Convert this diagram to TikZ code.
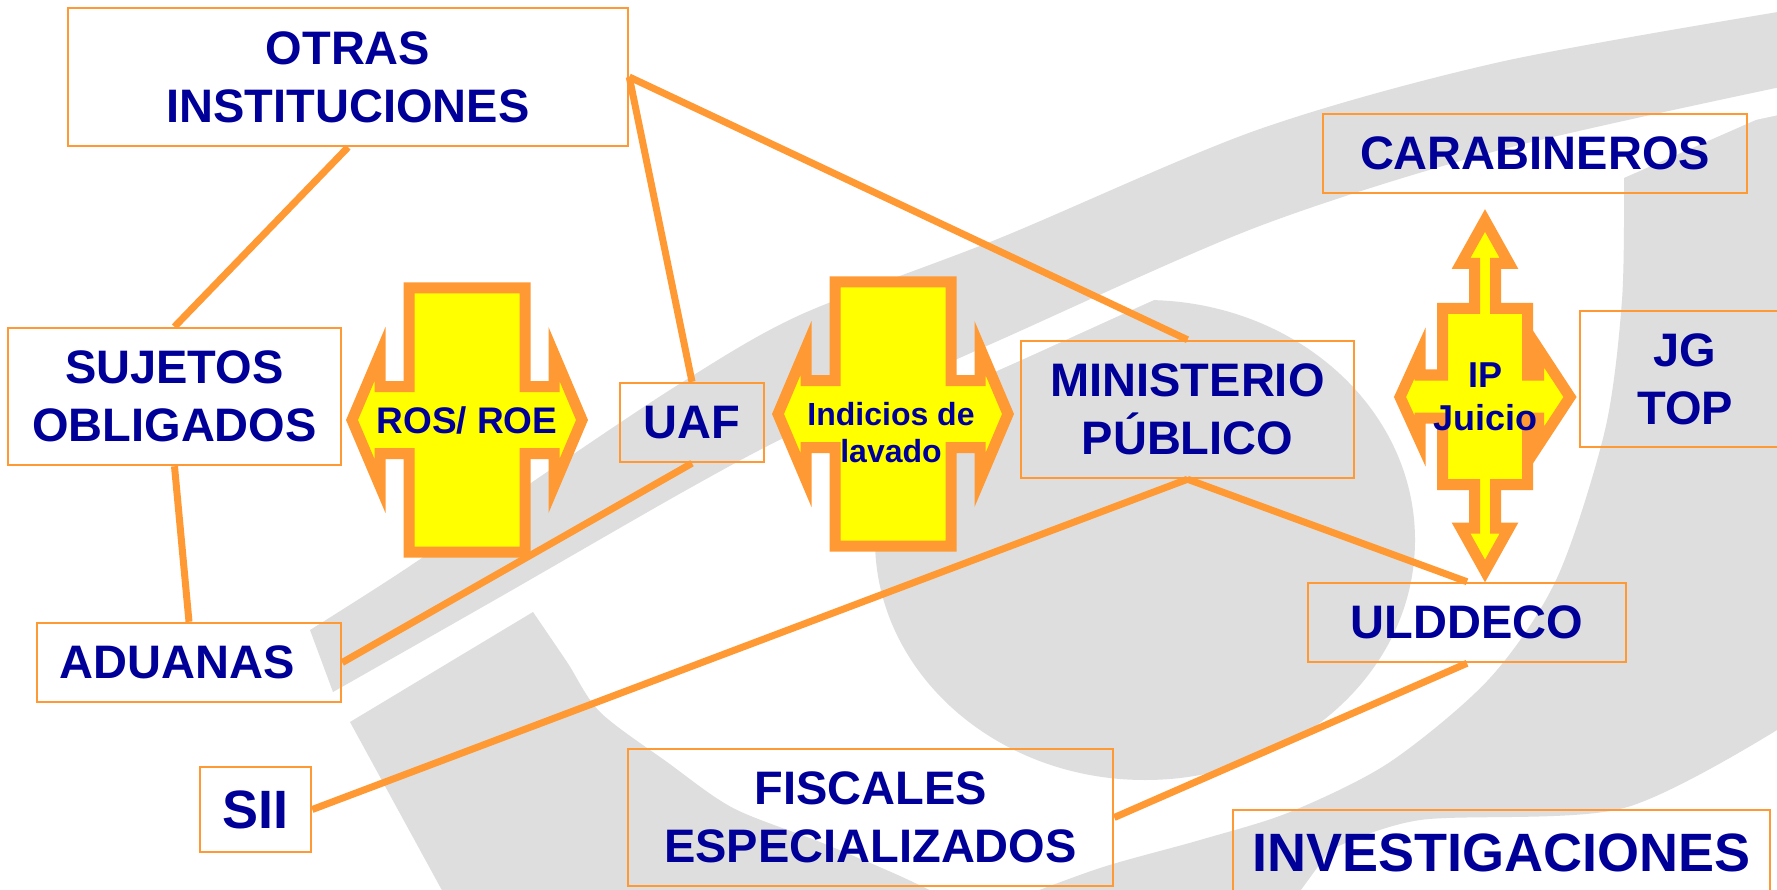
\documentclass[tikz,border=0pt]{standalone}
\usepackage{fontspec}
\setmainfont{Liberation Sans}
\usepackage{tikz}

\definecolor{naranja}{RGB}{255,153,51}
\definecolor{azul}{RGB}{0,0,153}
\definecolor{amarillo}{RGB}{255,255,0}
\definecolor{fondo}{RGB}{222,222,222}

\tikzset{
  caja/.style={draw=naranja, line width=2.5, inner sep=0pt, align=center,
    text=azul, font=\bfseries\fontsize{47}{58}\selectfont},
  cruz/.style={draw=naranja, fill=amarillo, line width=11, line join=miter},
  textocruz/.style={inner sep=0pt, align=center, text=azul}
}

\begin{document}
\begin{tikzpicture}[x=1pt,y=-1pt]

  \useasboundingbox (0,0) rectangle (1777,890);
  \clip (0,0) rectangle (1777,890);
  \fill[white] (0,0) rectangle (1777,890);

  % marca de agua
  \begin{scope}[fondo]
    \fill plot[smooth] coordinates {(1624,178) (1622,300) (1605,430) (1557,578) (1490,678) (1390,762) (1290,812) (1200,840) (1100,868) (1000,905)}
      -- (1290,905) -- plot[smooth] coordinates {(1330,850) (1420,820) (1624,808) (1790,722)} -- (1790,105) -- cycle;
    \fill (350,722) -- plot[smooth] coordinates {(533,612) (567,662) (600,712) (667,762) (733,808) (820,842) (900,876) (960,905)} -- (450,905) -- cycle;
    \fill (1145,540) ellipse [x radius=270pt, y radius=240pt];
    \fill[preaction={draw=white, line width=54, line join=round}]
      plot[smooth] coordinates {(310,630) (407,568) (550,470) (681,383) (800,315) (1000,238) (1257,130) (1500,62) (1790,10)}
      -- plot[smooth] coordinates {(1790,85) (1500,150) (1257,227) (1000,340) (800,430) (690,488) (500,597) (333,692)} -- cycle;
  \end{scope}

  % cruces
  \foreach \cx/\cy in {467/420, 893/414}
    \draw[cruz, shift={(\cx,\cy)}] (-58,-132) -- (58,-132) -- (58,-33.5) -- (87,-33.5) -- (87,-66) -- (115,0) -- (87,66) -- (87,33.5) -- (58,33.5) -- (58,132) -- (-58,132) -- (-58,33.5) -- (-87,33.5) -- (-87,66) -- (-115,0) -- (-87,-66) -- (-87,-33.5) -- (-58,-33.5) -- cycle;
  \draw[cruz, shift={(1485,397)}] (0,-176.5) -- (24,-133.5) -- (10.5,-133.5) -- (10.5,-88.5) -- (42.5,-88.5) -- (42.5,-22) -- (53.5,-22) -- (53.5,-48) -- (85,0) -- (53.5,48) -- (53.5,21) -- (42.5,21) -- (42.5,87.5) -- (10.5,87.5) -- (10.5,131) -- (24,131) -- (0,174) -- (-24,131) -- (-10.5,131) -- (-10.5,87.5) -- (-42.5,87.5) -- (-42.5,21) -- (-65,21) -- (-65,44) -- (-85,0) -- (-65,-44) -- (-65,-22) -- (-42.5,-22) -- (-42.5,-88.5) -- (-10.5,-88.5) -- (-10.5,-133.5) -- (-24,-133.5) -- cycle;

  \node[textocruz, font=\bfseries\fontsize{37}{44}\selectfont] (rosroe) at (467,420) {ROS/ ROE};
  \node[textocruz, font=\bfseries\fontsize{32}{37}\selectfont] (indicios) at (891,433) {Indicios de\\lavado};
  \node[textocruz, font=\bfseries\fontsize{36}{43}\selectfont] (ipjuicio) at (1485,397) {IP\\Juicio};

  \begin{scope}[every node/.style={caja}]
    \node[minimum width=560, minimum height=138] (otras) at (348,77) {OTRAS\\INSTITUCIONES};
    \node[minimum width=333, minimum height=137] (sujetos) at (174.5,396.5) {SUJETOS\\OBLIGADOS};
    \node[minimum width=144, minimum height=79] (uaf) at (692,422.5) {UAF};
    \node[minimum width=304, minimum height=79] (aduanas) at (189,662.5) {ADUANAS\hspace*{24pt}};
    \node[minimum width=111, minimum height=85, font=\bfseries\fontsize{54}{60}\selectfont] (sii) at (255.5,809.5) {SII};
    \node[minimum width=485, minimum height=137] (fiscales) at (870.5,817.5) {FISCALES\\ESPECIALIZADOS};
    \node[minimum width=333, minimum height=137] (mp) at (1187.5,409.5) {MINISTERIO\\PÚBLICO};
    \node[minimum width=424, minimum height=79] (carab) at (1535,153.5) {CARABINEROS};
    \node[minimum width=210, minimum height=136] (jgtop) at (1685,379) {JG\\TOP};
    \node[minimum width=318, minimum height=79] (ulddeco) at (1467,622.5) {ULDDECO};
    \node[minimum width=537, minimum height=85, font=\bfseries\fontsize{54}{60}\selectfont] (invest) at (1501.5,852.5) {INVESTIGACIONES};
  \end{scope}

  \begin{scope}[every edge/.style={draw=naranja, line width=7}]
    \path (otras.south) edge (sujetos.north)
          (sujetos.south) edge (aduanas.north)
          (otras.east) edge (uaf.north)
          (otras.east) edge (mp.north)
          (uaf.south) edge (aduanas.east)
          (mp.south) edge (sii.east)
          (mp.south) edge (ulddeco.north)
          (ulddeco.south) edge (fiscales.east);
  \end{scope}

\end{tikzpicture}
\end{document}
